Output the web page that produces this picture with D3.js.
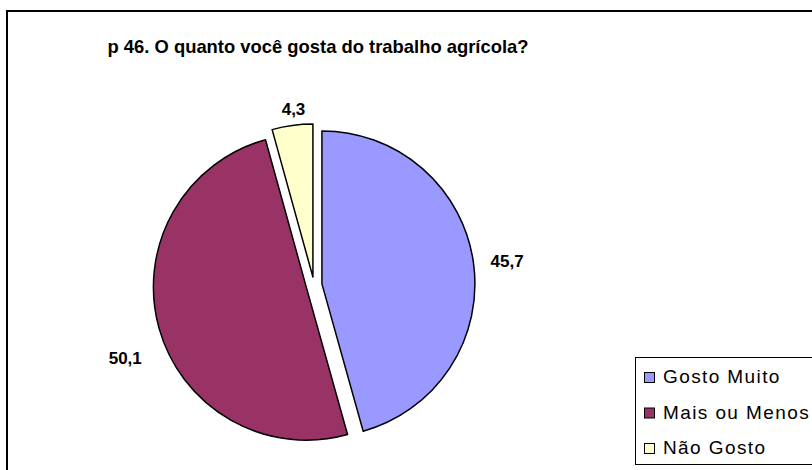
<!DOCTYPE html>
<html>
<head>
<meta charset="utf-8">
<script src="https://cdn.jsdelivr.net/npm/d3@7"></script>
<style>
  body { margin: 0; background: #fff; }
  text { font-family: Arial, "Liberation Sans", sans-serif; }
</style>
</head>
<body>
<script>
// chart data
var categories = ["Gosto Muito", "Mais ou Menos", "Não Gosto"];
var values = [45.7, 50.1, 4.3];
var labels = ["45,7", "50,1", "4,3"];
var colors = ["#9999FF", "#993366", "#FFFFCC"];
var title = "p 46. O quanto você gosta do trabalho agrícola?";

var width = 812,
    height = 470,
    cx = 314, cy = 285,
    radius = 153,
    explode = 8;

var svg = d3.select("body").append("svg")
    .attr("width", width)
    .attr("height", height);

// chart border (runs off the right and bottom edges)
svg.append("rect")
    .attr("x", 7).attr("y", 11)
    .attr("width", 840).attr("height", 500)
    .style("fill", "#fff")
    .style("stroke", "#000")
    .style("stroke-width", 2);

svg.append("text")
    .attr("x", 318).attr("y", 53)
    .attr("text-anchor", "middle")
    .style("font-size", "18.4px")
    .style("font-weight", "bold")
    .text(title);

var pie = d3.pie().sort(null).value(function(d) { return d; });
var arcs = pie(values);
var arc = d3.arc().innerRadius(0).outerRadius(radius);

function mid(d) { return (d.startAngle + d.endAngle) / 2; }

var g = svg.append("g").attr("transform", "translate(" + cx + "," + cy + ")");

g.selectAll("path")
  .data(arcs)
  .enter().append("path")
    .attr("d", arc)
    .attr("transform", function(d) {
      var a = mid(d);
      return "translate(" + (Math.sin(a) * explode) + "," + (-Math.cos(a) * explode) + ")";
    })
    .style("fill", function(d, i) { return colors[i]; })
    .style("stroke", "#000")
    .style("stroke-width", 1.5)
    .style("stroke-linejoin", "round");

// data labels, pushed outward from each slice
var labelRadius = radius + 30;
var labelShift = [[-2, 1], [1, 24], [6, 5]];
g.selectAll("text.lbl")
  .data(arcs)
  .enter().append("text")
    .attr("class", "lbl")
    .attr("x", function(d, i) { return Math.sin(mid(d)) * labelRadius + Math.sin(mid(d)) * 14 + labelShift[i][0]; })
    .attr("y", function(d, i) { return -Math.cos(mid(d)) * labelRadius + labelShift[i][1]; })
    .attr("dy", "0.35em")
    .attr("text-anchor", "middle")
    .style("font-size", "17px")
    .style("font-weight", "bold")
    .text(function(d, i) { return labels[i]; });

// legend
var lg = svg.append("g");
lg.append("rect")
    .attr("x", 635.5).attr("y", 357.5)
    .attr("width", 200).attr("height", 107)
    .style("fill", "#fff")
    .style("stroke", "#000")
    .style("stroke-width", 1);

var item = lg.selectAll("g.item")
  .data(categories)
  .enter().append("g")
    .attr("class", "item")
    .attr("transform", function(d, i) { return "translate(644," + (372 + i * 35.5) + ")"; });

item.append("rect")
    .attr("x", 0.5).attr("y", 0.5)
    .attr("width", 10).attr("height", 10)
    .style("fill", function(d, i) { return colors[i]; })
    .style("stroke", "#000")
    .style("stroke-width", 1);

item.append("text")
    .attr("x", 19).attr("y", 11)
    .style("font-size", "19px")
    .style("letter-spacing", "1.4px")
    .text(function(d) { return d; });
</script>
</body>
</html>
